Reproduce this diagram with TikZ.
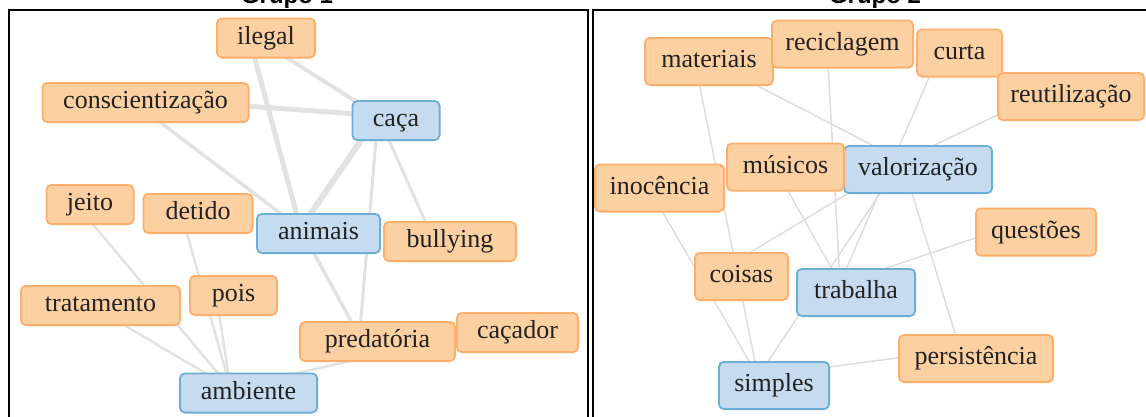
\documentclass[tikz,border=0pt]{standalone}
\usepackage{fontspec}
\setmainfont{Liberation Serif}
\newfontfamily\headfont{Liberation Sans}
\usetikzlibrary{backgrounds}

\definecolor{orfill}{HTML}{FDD0A2}
\definecolor{ordraw}{HTML}{FDAE6B}
\definecolor{blfill}{HTML}{C6DBEF}
\definecolor{bldraw}{HTML}{6BAED6}
\definecolor{edgeL}{HTML}{E2E2E2}
\definecolor{edgeR}{HTML}{DDDDDD}
\definecolor{wordcol}{HTML}{222222}

\tikzset{
  word/.style={rectangle, rounded corners=5pt, line width=1.8pt, inner sep=0pt,
    text=wordcol, font=\fontsize{26}{26}\selectfont, text height=17.5pt, text depth=5.5pt},
  term/.style={word, fill=orfill, draw=ordraw},
  hub/.style={word, fill=blfill, draw=bldraw},
  lh/.style={minimum height=39.2pt},
  rh/.style={minimum height=47.2pt},
  linkL/.style={draw=edgeL, line width=2.5pt},
  linkR/.style={draw=edgeR, line width=1.5pt},
  frame/.style={draw=black, line width=2pt},
  title/.style={font=\headfont\bfseries\fontsize{24}{24}\selectfont, anchor=base}
}

% edges start from a point slightly up-left of each box centre
\newcommand\joinL[3][]{\draw[linkL,#1] ([shift={(-18,-5)}]#2.center) -- ([shift={(-18,-5)}]#3.center);}
\newcommand\joinR[3][]{\draw[linkR,#1] ([shift={(-16,-9)}]#2.center) -- ([shift={(-16,-9)}]#3.center);}

\begin{document}
\begin{tikzpicture}[x=1pt,y=-1pt]
\useasboundingbox (0,0) rectangle (1146,416);

% panel frames and titles
\draw[frame] (8.5,440) -- (8.5,10) -- (587.5,10) -- (587.5,440);
\draw[frame] (593,440) -- (593,10) -- (1170,10) -- (1170,440);
\node[title] (t1) at (287,3) {Grupo 1};
\node[title] (t2) at (875,3) {Grupo 2};

% ---- Grupo 1 ----
\node[term, lh, minimum width=98.2pt]  (ilegal) at (266,38) {ilegal};
\node[term, lh, minimum width=206.2pt] (consc) at (145.5,102.5) {conscientização};
\node[hub,  lh, minimum width=87.2pt]  (caca) at (396,120.5) {caça};
\node[term, lh, minimum width=87.2pt]  (jeito) at (90,204.5) {jeito};
\node[term, lh, minimum width=109.2pt] (detido) at (198,213.5) {detido};
\node[hub,  lh, minimum width=123.2pt] (animais) at (318.5,233.5) {animais};
\node[term, lh, minimum width=132.2pt] (bullying) at (450,241.5) {bullying};
\node[term, lh, minimum width=159.2pt] (tratamento) at (100.5,305.5) {tratamento};
\node[term, lh, minimum width=87.2pt]  (pois) at (233.5,295.5) {pois};
\node[term, lh, minimum width=155.2pt] (predatoria) at (377.5,341.5) {predatória};
\node[term, lh, minimum width=121.2pt] (cacador) at (517.5,332.5) {caçador};
\node[hub,  lh, minimum width=137.2pt] (ambiente) at (248.5,393) {ambiente};

% ---- Grupo 2 ----
\node[term, rh, minimum width=128.2pt] (materiais) at (709,61.5) {materiais};
\node[term, rh, minimum width=141.2pt] (reciclagem) at (842.5,44) {reciclagem};
\node[term, rh, minimum width=85.2pt]  (curta) at (959.5,53) {curta};
\node[term, rh, minimum width=146.2pt] (reutilizacao) at (1071,96.5) {reutilização};
\node[hub,  rh, minimum width=148.2pt] (valorizacao) at (918,169.5) {valorização};
\node[term, rh, minimum width=117.2pt] (musicos) at (785.5,167) {músicos};
\node[term, rh, minimum width=129.2pt] (inocencia) at (659.5,188) {inocência};
\node[term, rh, minimum width=120.2pt] (questoes) at (1036,232) {questões};
\node[term, rh, minimum width=93.2pt]  (coisas) at (741.5,276.5) {coisas};
\node[hub,  rh, minimum width=118.2pt] (trabalha) at (856,292.5) {trabalha};
\node[term, rh, minimum width=154.2pt] (persistencia) at (976,358.5) {persistência};
\node[hub,  rh, minimum width=110.2pt] (simples) at (774,385.5) {simples};

\begin{scope}[on background layer]
  % Grupo 1 links
  \joinL[line width=4pt]{ilegal}{caca}
  \joinL[line width=5pt]{ilegal}{animais}
  \joinL[line width=5pt]{consc}{caca}
  \joinL[line width=3.5pt]{consc}{animais}
  \joinL[line width=6pt]{caca}{animais}
  \joinL[line width=3pt]{caca}{predatoria}
  \joinL[line width=3pt]{caca}{bullying}
  \joinL[line width=3.5pt]{animais}{predatoria}
  \joinL{jeito}{ambiente}
  \joinL{tratamento}{ambiente}
  \joinL{detido}{ambiente}
  \joinL{pois}{ambiente}
  \joinL{cacador}{ambiente}
  % Grupo 2 links
  \joinR{materiais}{valorizacao}
  \joinR{materiais}{simples}
  \joinR{reciclagem}{trabalha}
  \joinR{curta}{trabalha}
  \joinR{reutilizacao}{valorizacao}
  \joinR{musicos}{trabalha}
  \joinR{valorizacao}{coisas}
  \joinR{valorizacao}{simples}
  \joinR{valorizacao}{persistencia}
  \joinR{questoes}{trabalha}
  \joinR{persistencia}{simples}
  \joinR{inocencia}{simples}
\end{scope}
\end{tikzpicture}
\end{document}
